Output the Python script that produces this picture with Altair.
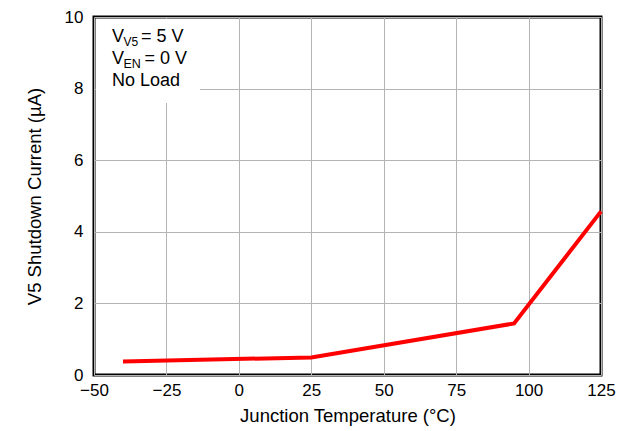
import altair as alt
import pandas as pd

temps = [-40, 25, 95, 125]
currents = [0.38, 0.49, 1.44, 4.57]

x_ticks = [-50, -25, 0, 25, 50, 75, 100, 125]
y_ticks = [0, 2, 4, 6, 8, 10]

FONT = "Liberation Sans"
W, H = 507, 358

df = pd.DataFrame({"t": temps, "i": currents})

xscale = alt.Scale(domain=[-50, 125], nice=False, zero=False)
yscale = alt.Scale(domain=[0, 10], nice=False)

line = alt.Chart(df).mark_line(color="#ff0000", strokeWidth=4).encode(
    x=alt.X("t:Q", scale=xscale, title="Junction Temperature (°C)",
            axis=alt.Axis(values=x_ticks, labelExpr="replace(datum.label, '-', '−')")),
    y=alt.Y("i:Q", scale=yscale, title="V5 Shutdown Current (µA)",
            axis=alt.Axis(values=y_ticks)),
)

# white box behind the conditions text (decorative)
rect = alt.Chart(pd.DataFrame({"a": [0]})).mark_rect(color="white").encode(
    x=alt.value(2), x2=alt.value(106), y=alt.value(2), y2=alt.value(86)
)

def txt(s, x, y, size=18):
    return alt.Chart(pd.DataFrame({"s": [s]})).mark_text(
        align="left", baseline="alphabetic", font=FONT, fontSize=size, color="black"
    ).encode(text="s:N", x=alt.value(x), y=alt.value(y))

ann = [
    txt("V", 18, 25), txt("V5", 29.5, 29, 12), txt("= 5 V", 47, 25),
    txt("V", 18, 47), txt("EN", 29.5, 51, 12.5), txt("= 0 V", 50.5, 47),
    txt("No Load", 18, 69),
]

chart = alt.layer(rect, line, *ann).properties(
    width=W, height=H,
    autosize=alt.AutoSizeParams(type="none"),
    padding={"left": 86, "top": 9, "right": 19, "bottom": 56},
).configure_view(
    stroke="black", strokeWidth=3
).configure_axis(
    grid=True, gridColor="#b4b4b4", gridWidth=1,
    domain=False, ticks=False, labelFlush=False, labelOverlap=False,
    labelFont=FONT, labelFontSize=17, labelColor="black",
    titleFont=FONT, titleFontSize=18.5, titleColor="black", titleFontWeight="normal",
).configure_axisX(
    labelPadding=7, titlePadding=8,
).configure_axisY(
    labelPadding=11, titlePadding=20,
)

chart.save("out.html", embed_options={"renderer": "svg", "actions": False})
